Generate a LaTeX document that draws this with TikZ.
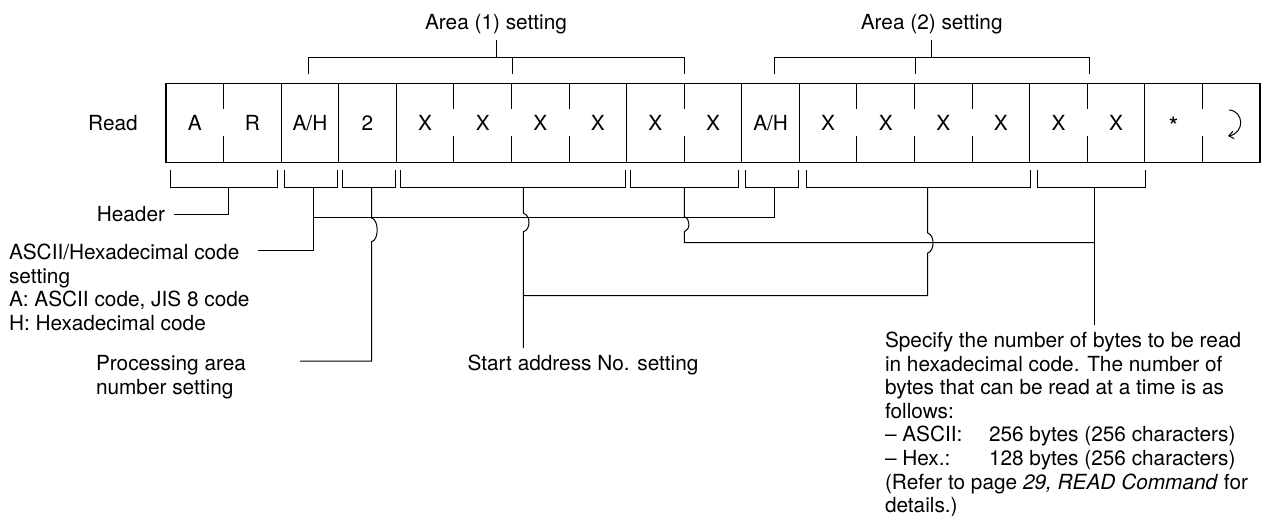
\documentclass[tikz,border=0pt]{standalone}
\usepackage{fontspec}
\setmainfont{TeX Gyre Heros}
\usetikzlibrary{arrows.meta}
\newcommand\botbr[4]{\draw[ln] (#2,170) |- (#3,188) -- (#3,170); \coordinate (#1) at (#4,188);}
\newcommand\bigast{\raisebox{-3.6pt}{\fontsize{19}{19}\selectfont *}}
\begin{document}
\begin{tikzpicture}[x=0.75pt,y=-0.75pt,
  ln/.style={line width=0.75pt,black},
  frame/.style={line width=0.95pt,black},
  txt/.style={inner sep=0pt,outer sep=0pt,font=\fontsize{15.6}{17.7}\selectfont},
  blk/.style={txt,align=left,anchor=north west},
  cellt/.style={txt,anchor=base}]
\useasboundingbox (0,0) rectangle (1266,516);
\def\cw{57.579}
% the row of cells
\draw[frame] (166,83.7) rectangle (1260,162.7);
\foreach \k in {2,3,4,8,10,11,15,17}
  \draw[frame] ({166+\cw*\k},83.7) -- ({166+\cw*\k},162.7);
\foreach \k in {1,5,6,7,9,12,13,14,16,18} {
  \draw[ln] ({166+\cw*\k},83.7) -- ({166+\cw*\k},109.3);
  \draw[ln] ({166+\cw*\k},136) -- ({166+\cw*\k},162.7);}
\foreach \t [count=\i from 0] in {A,R,A/H,2,X,X,X,X,X,X,A/H,X,X,X,X,X,X,\bigast,{}}
  \node[cellt] (c\i) at ({166+\cw*(\i+0.5)},130.5) {\t};
\draw[ln,-{Straight Barb[length=3.5pt,width=5.5pt]}] ([shift={(-2.2,-20.5)}]c18.center)
  .. controls ([shift={(12.8,-19.5)}]c18.center) and ([shift={(13.8,2.5)}]c18.center)
  .. ([shift={(-3.2,5.5)}]c18.center);
\node[txt,anchor=base] (read) at (113,130.5) {Read};
% top brackets
\node[txt,anchor=base] (a1) at (496,30) {Area (1) setting};
\draw[ln] (308,74.3) |- (684,57.3) -- (684,74.3);
\draw[ln] (512.3,57.3) -- (512.3,74.3);
\coordinate (a1s) at (496,57.3);
\draw[ln] (a1s) -- ([yshift=-4pt]a1.south);
\node[txt,anchor=base] (a2) at (931.7,30) {Area (2) setting};
\draw[ln] (774,74.3) |- (1089.3,57.3) -- (1089.3,74.3);
\draw[ln] (915.7,57.3) -- (915.7,74.3);
\coordinate (a2s) at (931.7,57.3);
\draw[ln] (a2s) -- ([yshift=-4pt]a2.south);
% bottom brackets
\botbr{b1}{170.3}{277.3}{228.3}
\botbr{b2}{284}{337.3}{313}
\botbr{b3}{342.7}{395.7}{371.7}
\botbr{b4}{400.3}{625.7}{523.3}
\botbr{b5}{630.7}{738}{684.3}
\botbr{b6}{745.7}{798.3}{774.3}
\botbr{b7}{806}{1030.7}{927.7}
\botbr{b8}{1037.7}{1145.7}{1094.3}
% labels and connectors
\node[txt,anchor=east] (hdr) at (165,214.3) {Header};
\draw[ln] (b1) |- ([xshift=7pt]hdr.east);
\node[blk] (asc) at (9,244) {ASCII/Hexadecimal code\\setting\\A: ASCII code, JIS 8 code\\H: Hexadecimal code};
\coordinate (ascR) at (258.3,250.7);
\draw[ln] (b2) |- (ascR);
\coordinate (j2) at (313,218);
\draw[ln] (j2) -| (b6);
\node[blk] (proc) at (96,355.7) {Processing area\\number setting};
\coordinate (procR) at (300,361);
\draw[ln] (b3) -- (371.7,218) .. controls (379,220) and (379,240) .. (371.7,241.7) |- (procR);
\node[txt,anchor=base] (start) at (583,370.5) {Start address No. setting};
\coordinate (st) at (523.3,348);
\draw[ln] (b4) -- (523.3,213.3) .. controls (530.9,215) and (530.9,230) .. (523.3,231.7) -- (st);
\coordinate (j4) at (523.3,295.7);
\draw[ln] (b7) -- (927.7,233) .. controls (934.8,235) and (934.8,251) .. (927.7,253) |- (j4);
\coordinate (j8) at (1094.3,242.7);
\draw[ln] (b5) -- (684.3,216.7) .. controls (690.5,218.5) and (690.5,230) .. (684.3,231.7) |- (j8);
\node[blk] (spec) at (885,332) {Specify the number of bytes to be read\\in hexadecimal code. The number of\\bytes that can be read at a time is as\\follows:\\\makebox[78pt][l]{– ASCII:}256 bytes (256 characters)\\\makebox[78pt][l]{– Hex.:}128 bytes (256 characters)\\(Refer to page \textit{29, READ Command} for\\details.)};
\coordinate (sp) at (1094.3,325);
\draw[ln] (b8) -- (sp);
\end{tikzpicture}
\end{document}
